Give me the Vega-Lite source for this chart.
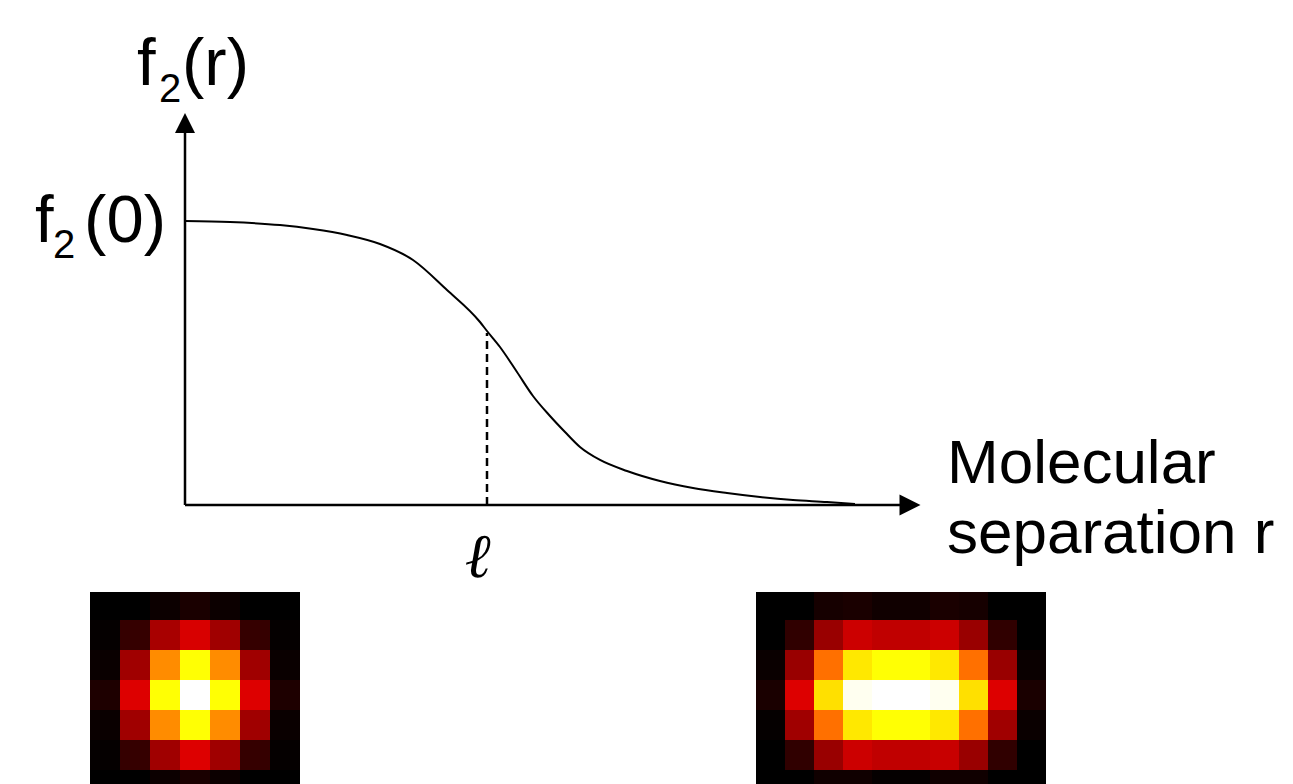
{
  "$schema": "https://vega.github.io/schema/vega-lite/v6.json",
  "padding": 0,
  "background": "white",
  "bounds": "flush",
  "spacing": 0,
  "config": {
    "view": {"stroke": null},
    "axis": {"disable": true},
    "legend": {"disable": true},
    "text": {"font": "Liberation Sans", "fontSize": 65, "color": "black"}
  },
  "datasets": {
    "curve": [
      {"r": 0.0, "f": 1.0},
      {"r": 0.149, "f": 0.9965},
      {"r": 0.3146, "f": 0.9859},
      {"r": 0.4238, "f": 0.9718},
      {"r": 0.5364, "f": 0.9507},
      {"r": 0.6457, "f": 0.919},
      {"r": 0.755, "f": 0.8627},
      {"r": 0.8675, "f": 0.757},
      {"r": 0.9768, "f": 0.6444},
      {"r": 1.0, "f": 0.6127},
      {"r": 1.043, "f": 0.5563},
      {"r": 1.0993, "f": 0.4683},
      {"r": 1.1523, "f": 0.3838},
      {"r": 1.2086, "f": 0.3134},
      {"r": 1.2583, "f": 0.257},
      {"r": 1.3079, "f": 0.2042},
      {"r": 1.3742, "f": 0.1585},
      {"r": 1.4636, "f": 0.1197},
      {"r": 1.5728, "f": 0.0845},
      {"r": 1.6821, "f": 0.0599},
      {"r": 1.7947, "f": 0.0423},
      {"r": 1.904, "f": 0.0282},
      {"r": 2.0132, "f": 0.0176},
      {"r": 2.1258, "f": 0.0106},
      {"r": 2.2185, "f": 0.0035}
    ],
    "left": [
      {"row": 0, "col": 0, "v": 0}, {"row": 0, "col": 1, "v": 0}, {"row": 0, "col": 2, "v": 0.017}, {"row": 0, "col": 3, "v": 0.037}, {"row": 0, "col": 4, "v": 0.017}, {"row": 0, "col": 5, "v": 0}, {"row": 0, "col": 6, "v": 0},
      {"row": 1, "col": 0, "v": 0.007}, {"row": 1, "col": 1, "v": 0.076}, {"row": 1, "col": 2, "v": 0.24}, {"row": 1, "col": 3, "v": 0.309}, {"row": 1, "col": 4, "v": 0.229}, {"row": 1, "col": 5, "v": 0.076}, {"row": 1, "col": 6, "v": 0.007},
      {"row": 2, "col": 0, "v": 0.014}, {"row": 2, "col": 1, "v": 0.229}, {"row": 2, "col": 2, "v": 0.574}, {"row": 2, "col": 3, "v": 0.75}, {"row": 2, "col": 4, "v": 0.574}, {"row": 2, "col": 5, "v": 0.229}, {"row": 2, "col": 6, "v": 0.014},
      {"row": 3, "col": 0, "v": 0.043}, {"row": 3, "col": 1, "v": 0.316}, {"row": 3, "col": 2, "v": 0.75}, {"row": 3, "col": 3, "v": 1.0}, {"row": 3, "col": 4, "v": 0.75}, {"row": 3, "col": 5, "v": 0.316}, {"row": 3, "col": 6, "v": 0.043},
      {"row": 4, "col": 0, "v": 0.014}, {"row": 4, "col": 1, "v": 0.229}, {"row": 4, "col": 2, "v": 0.574}, {"row": 4, "col": 3, "v": 0.75}, {"row": 4, "col": 4, "v": 0.574}, {"row": 4, "col": 5, "v": 0.229}, {"row": 4, "col": 6, "v": 0.014},
      {"row": 5, "col": 0, "v": 0.007}, {"row": 5, "col": 1, "v": 0.076}, {"row": 5, "col": 2, "v": 0.229}, {"row": 5, "col": 3, "v": 0.316}, {"row": 5, "col": 4, "v": 0.229}, {"row": 5, "col": 5, "v": 0.076}, {"row": 5, "col": 6, "v": 0.007},
      {"row": 6, "col": 0, "v": 0}, {"row": 6, "col": 1, "v": 0}, {"row": 6, "col": 2, "v": 0.017}, {"row": 6, "col": 3, "v": 0.037}, {"row": 6, "col": 4, "v": 0.017}, {"row": 6, "col": 5, "v": 0}, {"row": 6, "col": 6, "v": 0}
    ],
    "right": [
      {"row": 0, "col": 0, "v": 0}, {"row": 0, "col": 1, "v": 0}, {"row": 0, "col": 2, "v": 0.032}, {"row": 0, "col": 3, "v": 0.037}, {"row": 0, "col": 4, "v": 0.023}, {"row": 0, "col": 5, "v": 0.023}, {"row": 0, "col": 6, "v": 0.037}, {"row": 0, "col": 7, "v": 0.032}, {"row": 0, "col": 8, "v": 0}, {"row": 0, "col": 9, "v": 0},
      {"row": 1, "col": 0, "v": 0}, {"row": 1, "col": 1, "v": 0.069}, {"row": 1, "col": 2, "v": 0.219}, {"row": 1, "col": 3, "v": 0.292}, {"row": 1, "col": 4, "v": 0.275}, {"row": 1, "col": 5, "v": 0.275}, {"row": 1, "col": 6, "v": 0.292}, {"row": 1, "col": 7, "v": 0.219}, {"row": 1, "col": 8, "v": 0.069}, {"row": 1, "col": 9, "v": 0},
      {"row": 2, "col": 0, "v": 0.014}, {"row": 2, "col": 1, "v": 0.219}, {"row": 2, "col": 2, "v": 0.532}, {"row": 2, "col": 3, "v": 0.712}, {"row": 2, "col": 4, "v": 0.75}, {"row": 2, "col": 5, "v": 0.75}, {"row": 2, "col": 6, "v": 0.712}, {"row": 2, "col": 7, "v": 0.532}, {"row": 2, "col": 8, "v": 0.219}, {"row": 2, "col": 9, "v": 0.014},
      {"row": 3, "col": 0, "v": 0.037}, {"row": 3, "col": 1, "v": 0.316}, {"row": 3, "col": 2, "v": 0.7}, {"row": 3, "col": 3, "v": 0.985}, {"row": 3, "col": 4, "v": 1.0}, {"row": 3, "col": 5, "v": 1.0}, {"row": 3, "col": 6, "v": 0.985}, {"row": 3, "col": 7, "v": 0.7}, {"row": 3, "col": 8, "v": 0.316}, {"row": 3, "col": 9, "v": 0.037},
      {"row": 4, "col": 0, "v": 0.007}, {"row": 4, "col": 1, "v": 0.229}, {"row": 4, "col": 2, "v": 0.532}, {"row": 4, "col": 3, "v": 0.712}, {"row": 4, "col": 4, "v": 0.75}, {"row": 4, "col": 5, "v": 0.75}, {"row": 4, "col": 6, "v": 0.712}, {"row": 4, "col": 7, "v": 0.532}, {"row": 4, "col": 8, "v": 0.229}, {"row": 4, "col": 9, "v": 0.014},
      {"row": 5, "col": 0, "v": 0}, {"row": 5, "col": 1, "v": 0.069}, {"row": 5, "col": 2, "v": 0.219}, {"row": 5, "col": 3, "v": 0.292}, {"row": 5, "col": 4, "v": 0.275}, {"row": 5, "col": 5, "v": 0.275}, {"row": 5, "col": 6, "v": 0.286}, {"row": 5, "col": 7, "v": 0.219}, {"row": 5, "col": 8, "v": 0.069}, {"row": 5, "col": 9, "v": 0},
      {"row": 6, "col": 0, "v": 0}, {"row": 6, "col": 1, "v": 0}, {"row": 6, "col": 2, "v": 0.023}, {"row": 6, "col": 3, "v": 0.023}, {"row": 6, "col": 4, "v": 0.007}, {"row": 6, "col": 5, "v": 0.007}, {"row": 6, "col": 6, "v": 0.023}, {"row": 6, "col": 7, "v": 0.023}, {"row": 6, "col": 8, "v": 0}, {"row": 6, "col": 9, "v": 0}
    ]
  },
  "vconcat": [
    {
      "width": 1293,
      "height": 592,
      "data": {"values": [{}]},
      "layer": [
        {
          "mark": {"type": "rule", "stroke": "black", "strokeWidth": 2.5},
          "encoding": {
            "x": {"datum": 0, "type": "quantitative", "scale": {"domain": [-0.6126, 3.6689], "zero": false, "nice": false}},
            "y": {"datum": 0, "type": "quantitative", "scale": {"domain": [-0.3063, 1.7782], "zero": false, "nice": false}},
            "y2": {"datum": 1.31}
          }
        },
        {
          "mark": {"type": "rule", "stroke": "black", "strokeWidth": 2.5},
          "encoding": {
            "x": {"datum": 0, "type": "quantitative"},
            "x2": {"datum": 2.3675},
            "y": {"datum": 0, "type": "quantitative"}
          }
        },
        {
          "mark": {"type": "point", "shape": "M-1,1L0,-1L1,1Z", "filled": true, "color": "black", "opacity": 1, "size": 400, "strokeWidth": 0},
          "encoding": {
            "x": {"datum": 0, "type": "quantitative"},
            "y": {"datum": 1.345, "type": "quantitative"}
          }
        },
        {
          "mark": {"type": "point", "shape": "M-1,-1L1,0L-1,1Z", "filled": true, "color": "black", "opacity": 1, "size": 440, "strokeWidth": 0},
          "encoding": {
            "x": {"datum": 2.4007, "type": "quantitative"},
            "y": {"datum": 0, "type": "quantitative"}
          }
        },
        {
          "data": {"name": "curve"},
          "mark": {"type": "line", "interpolate": "monotone", "stroke": "black", "strokeWidth": 2},
          "encoding": {
            "x": {"field": "r", "type": "quantitative"},
            "y": {"field": "f", "type": "quantitative"}
          }
        },
        {
          "mark": {"type": "rule", "stroke": "black", "strokeWidth": 2.5, "strokeDash": [8, 5]},
          "encoding": {
            "x": {"datum": 1, "type": "quantitative"},
            "y": {"datum": 0, "type": "quantitative"},
            "y2": {"datum": 0.606}
          }
        },
        {
          "mark": {"type": "text", "text": "f", "fontSize": 67, "align": "left", "baseline": "alphabetic", "dx": -48},
          "encoding": {
            "x": {"datum": 0, "type": "quantitative"},
            "y": {"datum": 1.479, "type": "quantitative"}
          }
        },
        {
          "mark": {"type": "text", "text": "2", "fontSize": 40, "align": "left", "baseline": "alphabetic", "dx": -26, "dy": 17},
          "encoding": {
            "x": {"datum": 0, "type": "quantitative"},
            "y": {"datum": 1.479, "type": "quantitative"}
          }
        },
        {
          "mark": {"type": "text", "text": "(r)", "fontSize": 67, "align": "left", "baseline": "alphabetic", "dx": -3},
          "encoding": {
            "x": {"datum": 0, "type": "quantitative"},
            "y": {"datum": 1.479, "type": "quantitative"}
          }
        },
        {
          "mark": {"type": "text", "text": "f", "fontSize": 67, "align": "left", "baseline": "alphabetic", "dx": -150, "dy": 21},
          "encoding": {
            "x": {"datum": 0, "type": "quantitative"},
            "y": {"datum": 1, "type": "quantitative"}
          }
        },
        {
          "mark": {"type": "text", "text": "2", "fontSize": 40, "align": "left", "baseline": "alphabetic", "dx": -132, "dy": 37},
          "encoding": {
            "x": {"datum": 0, "type": "quantitative"},
            "y": {"datum": 1, "type": "quantitative"}
          }
        },
        {
          "mark": {"type": "text", "text": "(0)", "fontSize": 67, "align": "right", "baseline": "alphabetic", "dx": -19, "dy": 21},
          "encoding": {
            "x": {"datum": 0, "type": "quantitative"},
            "y": {"datum": 1, "type": "quantitative"}
          }
        },
        {
          "mark": {"type": "text", "text": "ℓ", "font": "Liberation Serif", "fontStyle": "italic", "fontWeight": "bold", "fontSize": 62, "align": "center", "baseline": "alphabetic", "dx": -8, "dy": 72},
          "encoding": {
            "x": {"datum": 1, "type": "quantitative"},
            "y": {"datum": 0, "type": "quantitative"}
          }
        },
        {
          "mark": {"type": "text", "text": ["Molecular", "separation r"], "fontSize": 62, "lineHeight": 70, "align": "left", "baseline": "alphabetic", "dx": 27, "dy": -22},
          "encoding": {
            "x": {"datum": 2.4338, "type": "quantitative"},
            "y": {"datum": 0, "type": "quantitative"}
          }
        }
      ]
    },
    {
      "hconcat": [
        {
          "width": 300,
          "height": 192,
          "data": {"name": "left"},
          "mark": {"type": "rect", "width": 30, "height": 30, "opacity": 1, "strokeWidth": 0, "clip": true},
          "encoding": {
            "x": {"field": "col", "type": "quantitative", "scale": {"domain": [-3.5, 6.5], "zero": false, "nice": false}},
            "y": {"field": "row", "type": "quantitative", "scale": {"domain": [-0.4333, 5.9667], "zero": false, "nice": false, "reverse": true}},
            "color": {"field": "v", "type": "quantitative", "scale": {"domain": [0, 0.365, 0.746, 1], "range": ["#000000", "#ff0000", "#ffff00", "#ffffff"], "interpolate": "rgb"}}
          }
        },
        {
          "width": 290,
          "height": 192,
          "data": {"name": "right"},
          "mark": {"type": "rect", "width": 29, "height": 30, "opacity": 1, "strokeWidth": 0, "clip": true},
          "encoding": {
            "x": {"field": "col", "type": "quantitative", "scale": {"domain": [-0.5, 9.5], "zero": false, "nice": false}},
            "y": {"field": "row", "type": "quantitative", "scale": {"domain": [-0.4333, 5.9667], "zero": false, "nice": false, "reverse": true}},
            "color": {"field": "v", "type": "quantitative", "scale": {"domain": [0, 0.365, 0.746, 1], "range": ["#000000", "#ff0000", "#ffff00", "#ffffff"], "interpolate": "rgb"}}
          }
        }
      ],
      "spacing": 456,
      "resolve": {"scale": {"color": "independent", "x": "independent", "y": "independent"}}
    }
  ]
}
